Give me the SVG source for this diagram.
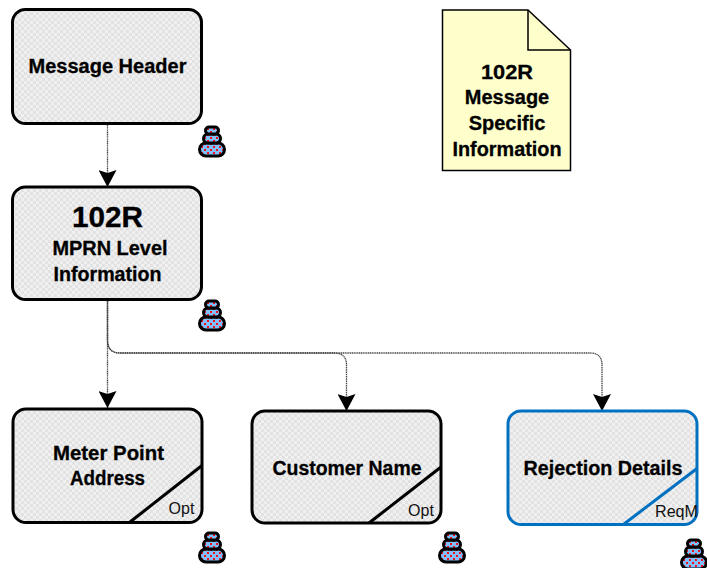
<svg xmlns="http://www.w3.org/2000/svg" width="707" height="568" viewBox="0 0 707 568">
<style>
.b{stroke:#000;stroke-width:3;fill:url(#chk)}
.bb{stroke:#0070c0;stroke-width:3;fill:url(#chk)}
.t{font-family:"Liberation Sans",Arial,sans-serif;font-weight:700;font-size:20px;fill:#000;text-anchor:middle;stroke:#000;stroke-width:.3}
.s{font-family:"Liberation Sans",Arial,sans-serif;font-size:16px;fill:#111;text-anchor:middle}
.c{fill:none;stroke:#444;stroke-width:1.3;stroke-dasharray:1.2 .6}
.d{stroke:#000;stroke-width:3;fill:none}
.db{stroke:#0070c0;stroke-width:3;fill:none}
.i{stroke:#000;stroke-width:3;fill:url(#ic)}
</style>
<defs>
<pattern id="chk" width="6" height="6" patternUnits="userSpaceOnUse"><rect width="6" height="6" fill="#f0f0f0"/><rect width="3" height="3" fill="#e2e2e2"/><rect x="3" y="3" width="3" height="3" fill="#e2e2e2"/></pattern>
<pattern id="ic" width="6" height="6" patternUnits="userSpaceOnUse"><rect width="6" height="6" fill="#80c0ff"/><rect width="2" height="2" fill="#f01020"/><rect x="3" y="3" width="2" height="2" fill="#f01020"/></pattern>
<marker id="a" markerUnits="userSpaceOnUse" markerWidth="18" markerHeight="18" refX="17" refY="9" orient="auto"><path d="M0 0L17 9L0 18L3 9Z" fill="#000"/></marker>
<g id="stack">
<rect x="1.500" y="18" width="25" height="13" rx="6.500" class="i"/>
<rect x="5.500" y="9" width="17" height="9" rx="4.500" class="i"/>
<rect x="7.500" y="2" width="13" height="7" rx="3.500" class="i"/>
</g>
</defs>
<g id="connectors">
<path class="c" d="M107.500 123V187" marker-end="url(#a)"/>
<path class="c" d="M107.500 299V408" marker-end="url(#a)"/>
<path class="c" d="M107.500 299V340Q107.500 353 120 353H334Q346.500 353 346.500 365V411" marker-end="url(#a)"/>
<path class="c" d="M107.500 299V340Q107.500 353 120 353H590Q602 353 602 365V411" marker-end="url(#a)"/>
</g>
<g id="message-header">
<rect class="b" x="12.500" y="9.500" width="189" height="114" rx="13"/>
<text class="t" x="107.500" y="73">Message Header</text>
<use href="#stack" x="198" y="125"/>
</g>
<g id="mprn-level">
<rect class="b" x="12.500" y="187" width="189" height="112.500" rx="13"/>
<text class="t" x="107.500" y="227" style="font-size:29px" textLength="71" lengthAdjust="spacingAndGlyphs">102R</text>
<text class="t" x="110" y="255" textLength="115" lengthAdjust="spacingAndGlyphs">MPRN Level</text>
<text class="t" x="107.500" y="281" textLength="108" lengthAdjust="spacingAndGlyphs">Information</text>
<use href="#stack" x="198" y="299"/>
</g>
<g id="specific-info">
<path d="M442.500 10H528L570.500 50V170.500H442.500Z" fill="#ffffcc" stroke="#000" stroke-width="1.500"/>
<path d="M528 10V50H570.500" fill="none" stroke="#000" stroke-width="1.500"/>
<text class="t" x="507" y="79" textLength="52" lengthAdjust="spacingAndGlyphs">102R</text>
<text class="t" x="507" y="104">Message</text>
<text class="t" x="507" y="130">Specific</text>
<text class="t" x="507" y="156" textLength="109" lengthAdjust="spacingAndGlyphs">Information</text>
</g>
<g id="meter-point">
<rect class="b" x="13" y="409" width="189" height="113.500" rx="13"/>
<path class="d" d="M130 522L202 465.500"/>
<text class="t" x="108.500" y="460" textLength="111" lengthAdjust="spacingAndGlyphs">Meter Point</text>
<text class="t" x="107.500" y="485" textLength="75" lengthAdjust="spacingAndGlyphs">Address</text>
<text class="s" x="181.500" y="514">Opt</text>
<use href="#stack" x="198" y="531"/>
</g>
<g id="customer-name">
<rect class="b" x="252" y="411" width="189" height="112" rx="13"/>
<path class="d" d="M369 523L441 467"/>
<text class="t" x="347" y="475" textLength="149" lengthAdjust="spacingAndGlyphs">Customer Name</text>
<text class="s" x="421" y="516">Opt</text>
<use href="#stack" x="438" y="531"/>
</g>
<g id="rejection-details">
<rect class="bb" x="508" y="411" width="189" height="113.500" rx="13"/>
<path class="db" d="M624 524L697 468.500"/>
<text class="t" x="603" y="475" textLength="159" lengthAdjust="spacingAndGlyphs">Rejection Details</text>
<text class="s" x="676.500" y="517" textLength="43" lengthAdjust="spacingAndGlyphs">ReqM</text>
<use href="#stack" x="680" y="538"/>
</g>
</svg>
